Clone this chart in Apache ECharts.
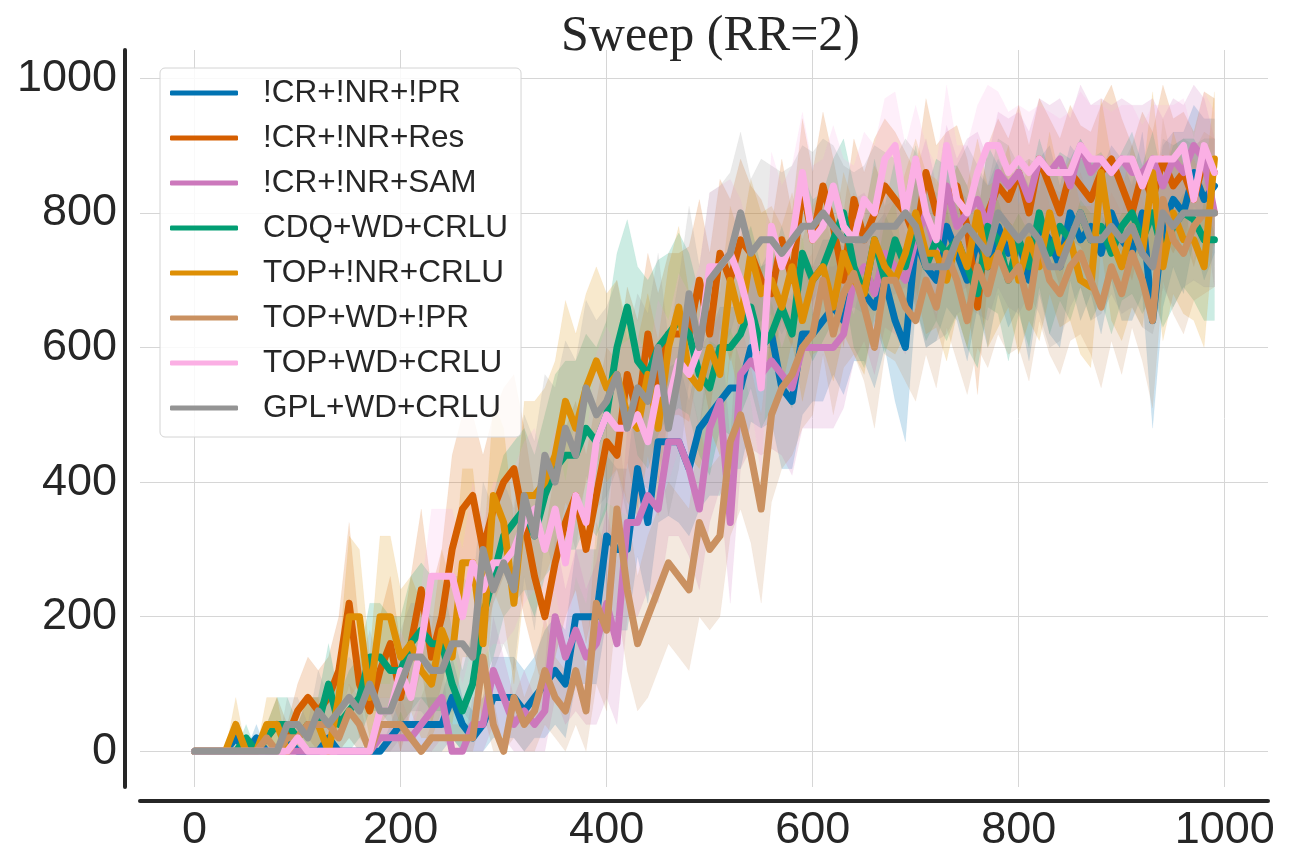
<!DOCTYPE html>
<html>
<head>
<meta charset="utf-8">
<script src="https://cdn.jsdelivr.net/npm/echarts@6/dist/echarts.min.js"></script>
<style>
  html, body { margin: 0; padding: 0; background: #fff; }
  #chart { width: 1296px; height: 864px; }
</style>
</head>
<body>
<div id="chart"></div>
<script>
// training steps, one point every 10
const steps = [];
for (let i = 0; i < 100; i++) steps.push(i * 10);

const names = ['!CR+!NR+!PR', '!CR+!NR+Res', '!CR+!NR+SAM', 'CDQ+WD+CRLU',
               'TOP+!NR+CRLU', 'TOP+WD+!PR', 'TOP+WD+CRLU', 'GPL+WD+CRLU'];
const colors = ['#0173b2', '#d55e00', '#cc78bc', '#029e73',
                '#de8f05', '#ca9161', '#fbafe4', '#949494'];

// mean returns
const crNrPr = [
  0,0,0,0,20,0,20,0,0,20,
  0,0,0,20,0,0,0,0,0,20,
  40,40,40,40,40,80,40,20,40,80,
  80,80,60,80,100,120,100,200,200,200,
  320,300,300,420,340,460,460,460,420,480,
  500,520,540,540,600,600,620,540,520,620,
  620,640,660,640,700,680,660,700,640,600,
  760,720,700,780,740,700,760,720,780,740,
  760,700,780,760,720,800,760,780,740,800,
  760,740,800,640,780,820,800,860,820,840];
const crNrRes = [
  0,0,0,0,0,0,0,20,40,20,
  60,80,60,80,120,220,100,60,120,160,
  80,160,240,140,200,300,360,380,300,360,
  400,420,340,260,200,280,340,380,300,380,
  460,440,560,500,620,540,620,620,620,700,
  620,740,700,760,740,700,680,760,700,840,
  760,840,780,700,820,760,800,840,820,800,
  760,860,800,820,840,780,660,800,840,820,
  860,800,880,840,800,860,840,820,860,880,
  840,800,860,820,880,840,860,820,880,860];
const crNrSam = [
  0,0,0,0,0,0,0,0,0,0,
  0,0,0,0,0,0,0,0,20,20,
  20,20,40,60,80,0,0,40,40,120,
  80,40,60,40,60,200,140,180,140,160,
  220,160,340,340,380,360,460,460,420,360,
  480,520,340,560,580,560,580,560,540,600,
  600,600,600,620,700,720,680,740,720,700,
  760,800,740,840,780,800,820,780,860,840,
  860,820,880,860,880,840,900,860,880,860,
  880,860,860,880,840,880,860,900,880,800];
const cdqWdCrlu = [
  0,0,0,0,0,20,0,20,40,40,
  20,40,40,100,40,60,80,140,140,120,
  120,160,180,160,160,100,60,100,200,260,
  320,340,360,320,380,420,440,440,480,460,
  500,600,660,580,560,600,620,640,620,560,
  540,600,600,620,660,600,620,660,620,740,
  700,720,760,800,720,680,760,700,760,720,
  780,720,760,740,760,720,680,780,760,700,
  760,720,800,740,780,760,800,760,780,740,
  780,800,760,800,740,780,800,790,760,760];
const topNrCrlu = [
  0,0,0,0,40,0,0,40,40,0,
  20,40,40,0,80,200,200,80,200,200,
  140,160,120,100,180,140,280,280,160,380,
  340,220,380,380,400,440,520,480,540,580,
  540,560,500,480,560,480,600,660,560,540,
  600,560,700,640,740,680,700,660,720,640,
  700,720,660,740,700,680,760,720,700,740,
  800,740,740,700,760,720,800,720,740,780,
  700,760,720,800,740,760,700,690,860,760,
  720,780,740,860,720,800,760,760,720,880];
const topWdPr = [
  0,0,0,0,0,0,0,20,0,20,
  20,40,40,40,20,60,40,0,40,40,
  40,20,0,20,20,20,20,20,140,40,
  0,80,40,60,120,80,60,120,60,220,
  180,360,240,160,200,240,280,260,240,340,
  300,320,460,500,440,360,500,540,560,600,
  620,700,620,680,710,660,600,700,700,660,
  640,700,660,740,700,640,720,680,740,700,
  720,660,760,700,680,720,740,700,660,720,
  680,740,700,640,820,760,740,780,800,800];
const topWdCrlu = [
  0,0,0,0,0,0,0,0,0,0,
  20,0,0,0,0,0,0,0,60,60,
  120,80,160,260,260,260,200,280,240,280,
  280,300,340,360,300,360,280,380,340,460,
  500,480,480,500,460,540,520,580,560,600,
  720,720,740,700,640,540,780,720,760,860,
  760,780,840,780,760,820,800,880,900,800,
  880,800,760,900,820,800,860,900,900,860,
  880,860,880,860,860,860,900,880,880,860,
  880,880,840,880,880,880,900,820,900,860];
const gplWdCrlu = [
  0,0,0,0,0,0,0,0,0,40,
  40,20,60,40,60,80,60,100,60,60,
  100,140,140,120,120,160,160,140,300,240,
  280,240,380,320,440,400,480,440,540,500,
  520,560,480,540,520,600,480,560,680,600,
  700,720,740,800,740,760,760,740,760,780,
  780,800,780,760,760,760,780,780,780,800,
  780,720,720,720,760,780,760,740,800,780,
  760,780,760,720,720,760,800,760,760,780,
  760,780,740,720,800,780,800,800,800,800];

// half-width of the shaded band
const crNrPrBand = [
  0,0,0,0,20,0,20,0,0,20,
  0,0,0,20,0,0,0,0,0,20,
  40,40,40,40,40,60,40,40,40,60,
  60,60,60,60,80,80,80,100,100,100,
  120,120,120,130,120,120,110,120,100,120,
  120,140,120,120,110,120,130,120,100,120,
  100,120,100,110,120,100,120,100,120,140,
  100,120,90,120,100,120,100,120,100,110,
  100,120,100,140,120,100,120,100,120,100,
  120,100,120,160,120,100,120,100,120,100];
const crNrResBand = [
  0,0,0,0,0,0,0,20,40,20,
  40,60,60,60,80,120,80,60,80,100,
  80,100,120,100,100,140,140,120,140,140,
  140,140,140,120,120,140,140,140,140,140,
  140,140,130,140,120,140,120,120,130,120,
  120,110,120,120,100,120,100,120,100,100,
  100,110,100,100,90,100,110,100,100,90,
  100,110,100,100,90,100,130,100,100,90,
  100,100,90,100,110,100,90,100,100,110,
  100,100,90,100,110,100,90,100,100,110];
const crNrSamBand = [
  0,0,0,0,0,0,0,0,0,0,
  0,0,0,0,0,0,0,0,20,20,
  20,20,40,60,60,0,0,40,40,80,
  60,40,60,40,60,120,100,120,100,120,
  140,120,140,140,140,140,140,140,130,120,
  140,130,120,140,130,120,130,120,130,120,
  120,120,120,110,120,110,120,110,100,110,
  100,110,100,90,100,110,100,100,90,100,
  90,100,90,100,90,100,90,100,90,100,
  90,100,100,90,100,90,100,90,90,110];
const cdqWdCrluBand = [
  0,0,0,0,0,20,0,20,40,40,
  20,40,40,60,40,60,60,80,80,80,
  80,100,100,100,100,80,60,80,100,120,
  120,120,120,120,120,140,140,140,140,140,
  140,140,130,140,140,130,120,130,120,120,
  130,120,130,120,120,120,110,120,110,120,
  120,110,120,110,120,110,120,110,120,110,
  120,110,120,130,110,120,110,120,110,120,
  110,120,110,120,110,120,110,120,110,120,
  110,120,110,120,110,120,110,120,120,120];
const topNrCrluBand = [
  0,0,0,0,40,0,0,40,40,0,
  20,40,40,0,60,120,100,60,120,120,
  100,100,100,80,120,100,140,140,120,140,
  140,120,140,140,140,140,150,140,140,140,
  140,140,130,130,120,130,120,120,120,120,
  120,120,110,120,110,120,110,120,110,120,
  110,120,110,120,110,120,110,120,110,120,
  110,120,110,120,110,120,110,120,110,120,
  110,120,110,120,110,120,110,120,110,120,
  110,120,110,120,110,120,110,120,120,100];
const topWdPrBand = [
  0,0,0,0,0,0,0,20,0,20,
  20,40,40,40,20,40,40,0,40,40,
  40,20,0,20,20,20,20,20,80,40,
  0,60,40,60,80,60,60,80,60,120,
  120,140,120,100,120,120,120,120,120,140,
  120,120,140,140,130,140,130,120,120,120,
  120,110,120,110,120,110,120,110,120,110,
  120,110,120,110,120,110,120,110,120,110,
  120,110,120,110,120,110,120,110,120,110,
  120,110,120,130,120,110,120,110,120,110];
const topWdCrluBand = [
  0,0,0,0,0,0,0,0,0,0,
  20,0,0,0,0,0,0,0,40,40,
  60,60,80,100,100,100,100,120,100,120,
  120,120,120,120,120,120,120,120,120,130,
  130,120,130,120,120,130,120,130,120,120,
  110,120,110,120,120,130,110,120,110,90,
  110,100,90,100,110,100,100,90,80,100,
  80,100,110,90,80,100,100,90,80,90,
  80,90,80,90,80,90,80,80,80,90,
  80,80,90,80,80,80,70,90,80,90];
const gplWdCrluBand = [
  0,0,0,0,0,0,0,0,0,40,
  40,20,60,40,60,60,60,80,60,60,
  80,80,80,80,80,100,100,100,100,120,
  120,120,120,140,120,140,130,140,130,140,
  140,140,130,140,130,140,130,140,130,120,
  130,120,120,120,110,120,110,120,110,120,
  110,110,120,110,100,110,120,110,100,110,
  110,120,110,100,110,120,110,100,110,120,
  110,100,110,120,110,100,110,120,110,100,
  110,120,110,100,110,120,110,100,110,110];

const means = [crNrPr, crNrRes, crNrSam, cdqWdCrlu, topNrCrlu, topWdPr, topWdCrlu, gplWdCrlu];
const bands = [crNrPrBand, crNrResBand, crNrSamBand, cdqWdCrluBand,
               topNrCrluBand, topWdPrBand, topWdCrluBand, gplWdCrluBand];

const xTicks = [0, 200, 400, 600, 800, 1000];
const yTicks = [0, 200, 400, 600, 800, 1000];

let series = [];

// shaded bands drawn as one polygon per run
means.forEach(function (m, k) {
  let lo = m.map(function (v, i) { return Math.max(0, v - bands[k][i]); });
  let hi = m.map(function (v, i) { return v + bands[k][i]; });
  series.push({
    type: 'custom', silent: true, z: 1,
    data: steps.map(function (x, i) { return [x, lo[i], hi[i]]; }),
    encode: {x: 0, y: [1, 2]},
    renderItem: function (params, api) {
      if (params.dataIndex !== 0) return null;
      let pts = [];
      for (let i = 0; i < steps.length; i++) pts.push(api.coord([steps[i], hi[i]]));
      for (let i = steps.length - 1; i >= 0; i--) pts.push(api.coord([steps[i], lo[i]]));
      return {
        type: 'polygon', shape: {points: pts},
        style: {fill: colors[k], opacity: 0.2, stroke: colors[k], lineWidth: 0.8, strokeOpacity: 0.3}
      };
    }
  });
});

means.forEach(function (m, k) {
  series.push({
    name: names[k], type: 'line', symbol: 'none', z: 2,
    data: steps.map(function (x, i) { return [x, m[i]]; }),
    lineStyle: {width: 7, color: colors[k], join: 'round', cap: 'round'},
    itemStyle: {color: colors[k]}
  });
});

const textColor = '#262626';
const font = 'Liberation Sans';

function axis(offset, ticks, margin) {
  return {
    type: 'value', min: -53, max: 1042, offset: offset,
    axisLine: {show: true, onZero: false, lineStyle: {color: textColor, width: 4}},
    axisTick: {show: false},
    axisLabel: {
      fontSize: 45, color: textColor, fontFamily: font, margin: margin,
      customValues: ticks,
      formatter: function (v) { return String(v); }
    },
    splitLine: {show: true, lineStyle: {color: '#d6d6d6', width: 1}, showMinLine: false, showMaxLine: false}
  };
}

let chart = echarts.init(document.getElementById('chart'));
chart.setOption({
  animation: false,
  backgroundColor: '#fff',
  title: {
    text: 'Sweep (RR=2)', left: 556, top: 7,
    textStyle: {fontFamily: 'Liberation Serif', fontSize: 50, fontWeight: 'normal', color: textColor}
  },
  grid: {left: 140, right: 28, top: 50, bottom: 77},
  xAxis: axis(14, xTicks, 7),
  yAxis: axis(15, yTicks, 8),
  legend: {
    orient: 'vertical', left: 160, top: 68,
    data: names.map(function (n) { return {name: n, icon: 'roundRect'}; }),
    itemWidth: 68, itemHeight: 5, itemGap: 13,
    padding: [9, 13, 13, 10],
    backgroundColor: 'rgba(255,255,255,0.85)',
    borderColor: '#d4d4d4', borderWidth: 1, borderRadius: 5,
    textStyle: {fontSize: 31.5, color: textColor, fontFamily: font, lineHeight: 30, padding: [0, 0, 0, 20]}
  },
  series: series
});
</script>
</body>
</html>
